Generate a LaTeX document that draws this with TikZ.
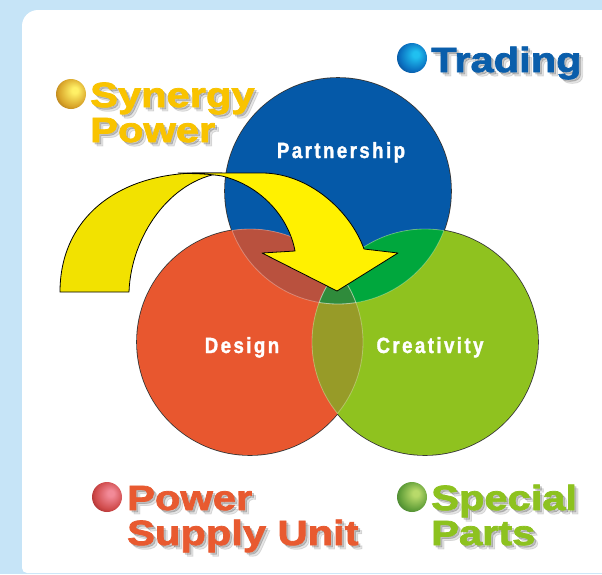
\documentclass[tikz,border=0pt]{standalone}
\usepackage{fontspec}
\newfontfamily\lblfont[FakeStretch=1.19,FakeBold=2.2]{Liberation Sans}
\newfontfamily\cirfont[FakeStretch=0.85,FakeBold=1.4,LetterSpace=11]{Liberation Sans}
\definecolor{bgblue}{HTML}{C6E4F7}
\definecolor{cblue}{HTML}{0559A8}
\definecolor{cred}{HTML}{E8572F}
\definecolor{cgreen}{HTML}{8FC21F}
\definecolor{cbr}{HTML}{B9513E}
\definecolor{cbg}{HTML}{00A73D}
\definecolor{crg}{HTML}{979B28}
\definecolor{call}{HTML}{2F8B3B}
\definecolor{outl}{HTML}{353535}
\definecolor{yel1}{HTML}{F2E200}
\definecolor{yel2}{HTML}{FFF100}
\definecolor{tgold}{HTML}{F9C300}
\definecolor{tblue}{HTML}{0A5EAB}
\definecolor{tred}{HTML}{E85A30}
\definecolor{tgreen}{HTML}{8DC21F}
\definecolor{gA}{HTML}{FFF066}\definecolor{gB}{HTML}{D9A52A}\definecolor{gC}{HTML}{9C6512}
\definecolor{bA}{HTML}{20C0F0}\definecolor{bB}{HTML}{0A70C0}\definecolor{bC}{HTML}{083E80}
\definecolor{rA}{HTML}{F28A98}\definecolor{rB}{HTML}{CF4A4A}\definecolor{rC}{HTML}{8E1E1E}
\definecolor{eA}{HTML}{B8DA6A}\definecolor{eB}{HTML}{63A03A}\definecolor{eC}{HTML}{336F2C}
\pgfdeclareradialshading{goldball}{\pgfpoint{7bp}{7bp}}{color(0bp)=(gA); color(5bp)=(gA); color(24bp)=(gB); color(36bp)=(gC); color(50bp)=(gC)}
\pgfdeclareradialshading{blueball}{\pgfpoint{7bp}{7bp}}{color(0bp)=(bA); color(5bp)=(bA); color(24bp)=(bB); color(36bp)=(bC); color(50bp)=(bC)}
\pgfdeclareradialshading{redball}{\pgfpoint{7bp}{7bp}}{color(0bp)=(rA); color(5bp)=(rA); color(24bp)=(rB); color(36bp)=(rC); color(50bp)=(rC)}
\pgfdeclareradialshading{greenball}{\pgfpoint{7bp}{7bp}}{color(0bp)=(eA); color(5bp)=(eA); color(24bp)=(eB); color(36bp)=(eC); color(50bp)=(eC)}
\tikzset{
  lbl/.style={inner sep=0pt, anchor=base west, font=\lblfont\bfseries\fontsize{35}{35}\selectfont},
  cir/.style={inner sep=0pt, anchor=base, text=white, font=\cirfont\bfseries\fontsize{22}{22}\selectfont},
  arrowpart/.style={draw=black, line width=0.8pt, line join=round},
  ring/.style={line width=1.6pt, draw=outl},
}
\newcommand{\shadowlbl}[4]{%
  \node[lbl, text=black, opacity=0.10, xshift=4pt, yshift=-4pt] at (#2) {#4};
  \node[lbl, text=black, opacity=0.16, xshift=2pt, yshift=-2pt] at (#2) {#4};
  \node[lbl, text=#3] (#1) at (#2) {#4};
}
\begin{document}
\begin{tikzpicture}[x=1pt,y=-1pt]
\useasboundingbox (0,0) rectangle (602,574);
% frame
\fill[bgblue] (0,0) rectangle (602,574);
\fill[white] (615,10) [rounded corners=16pt] -- (22,10) [rounded corners=5pt] -- (22,573) [sharp corners] -- (615,573) -- cycle;
% circles
\coordinate (cB) at (338,191);
\coordinate (cR) at (250,342);
\coordinate (cG) at (425,342);
\draw[ring] (cB) circle (113pt);
\draw[ring] (cR) circle (113pt);
\draw[ring] (cG) circle (113pt);
\fill[cblue] (cB) circle (113pt);
\fill[cred] (cR) circle (113pt);
\fill[cgreen] (cG) circle (113pt);
\begin{scope}
  \clip (cB) circle (113pt);
  \fill[cbr] (cR) circle (113pt);
  \fill[cbg] (cG) circle (113pt);
\end{scope}
\begin{scope}
  \clip (cR) circle (113pt);
  \fill[crg] (cG) circle (113pt);
  \clip (cG) circle (113pt);
  \fill[call] (cB) circle (113pt);
\end{scope}
% faint inner edges
\begin{scope}[draw=white, draw opacity=0.3, line width=0.8pt]
  \begin{scope}\clip (cB) circle (113pt);
    \draw (cR) circle (113pt); \draw (cG) circle (113pt);
  \end{scope}
  \begin{scope}\clip (cR) circle (113pt);
    \draw (cB) circle (113pt); \draw (cG) circle (113pt);
  \end{scope}
  \begin{scope}\clip (cG) circle (113pt);
    \draw (cB) circle (113pt); \draw (cR) circle (113pt);
  \end{scope}
\end{scope}
% circle labels
\node[cir] (partner) at (341,158) {Partnership};
\node[cir] (design) at (242,353) {Design};
\node[cir] (creat) at (430,353) {Creativity};
% arrow
\fill[yel1, arrowpart] (60,292) .. controls (60,218) and (118,173) .. (200,173)
   -- (222,173) .. controls (170,180) and (131,236) .. (129,292) -- cycle;
\fill[yel2, arrowpart] (178,173) -- (262,173) .. controls (308,173) and (350,210) .. (364,249)
   -- (398,253) -- (337,291) -- (262,253) -- (295,251)
   .. controls (289,218) and (262,186) .. (222,176) .. controls (210,174) and (195,173.5) .. (185,173.5) -- cycle;
% labels
\shade[shading=goldball] (71,94) circle (15pt);
\shadowlbl{syn1}{90,107}{tgold}{Synergy}
\shadowlbl{syn2}{90,142}{tgold}{Power}
\shade[shading=blueball] (412,58) circle (15pt);
\shadowlbl{trade}{431,72}{tblue}{Trading}
\shade[shading=redball] (107,497) circle (15pt);
\shadowlbl{psu1}{127,510}{tred}{Power}
\shadowlbl{psu2}{127,545}{tred}{Supply Unit}
\shade[shading=greenball] (412,497) circle (15pt);
\shadowlbl{sp1}{431,510}{tgreen}{Special}
\shadowlbl{sp2}{431,545}{tgreen}{Parts}
\end{tikzpicture}
\end{document}
